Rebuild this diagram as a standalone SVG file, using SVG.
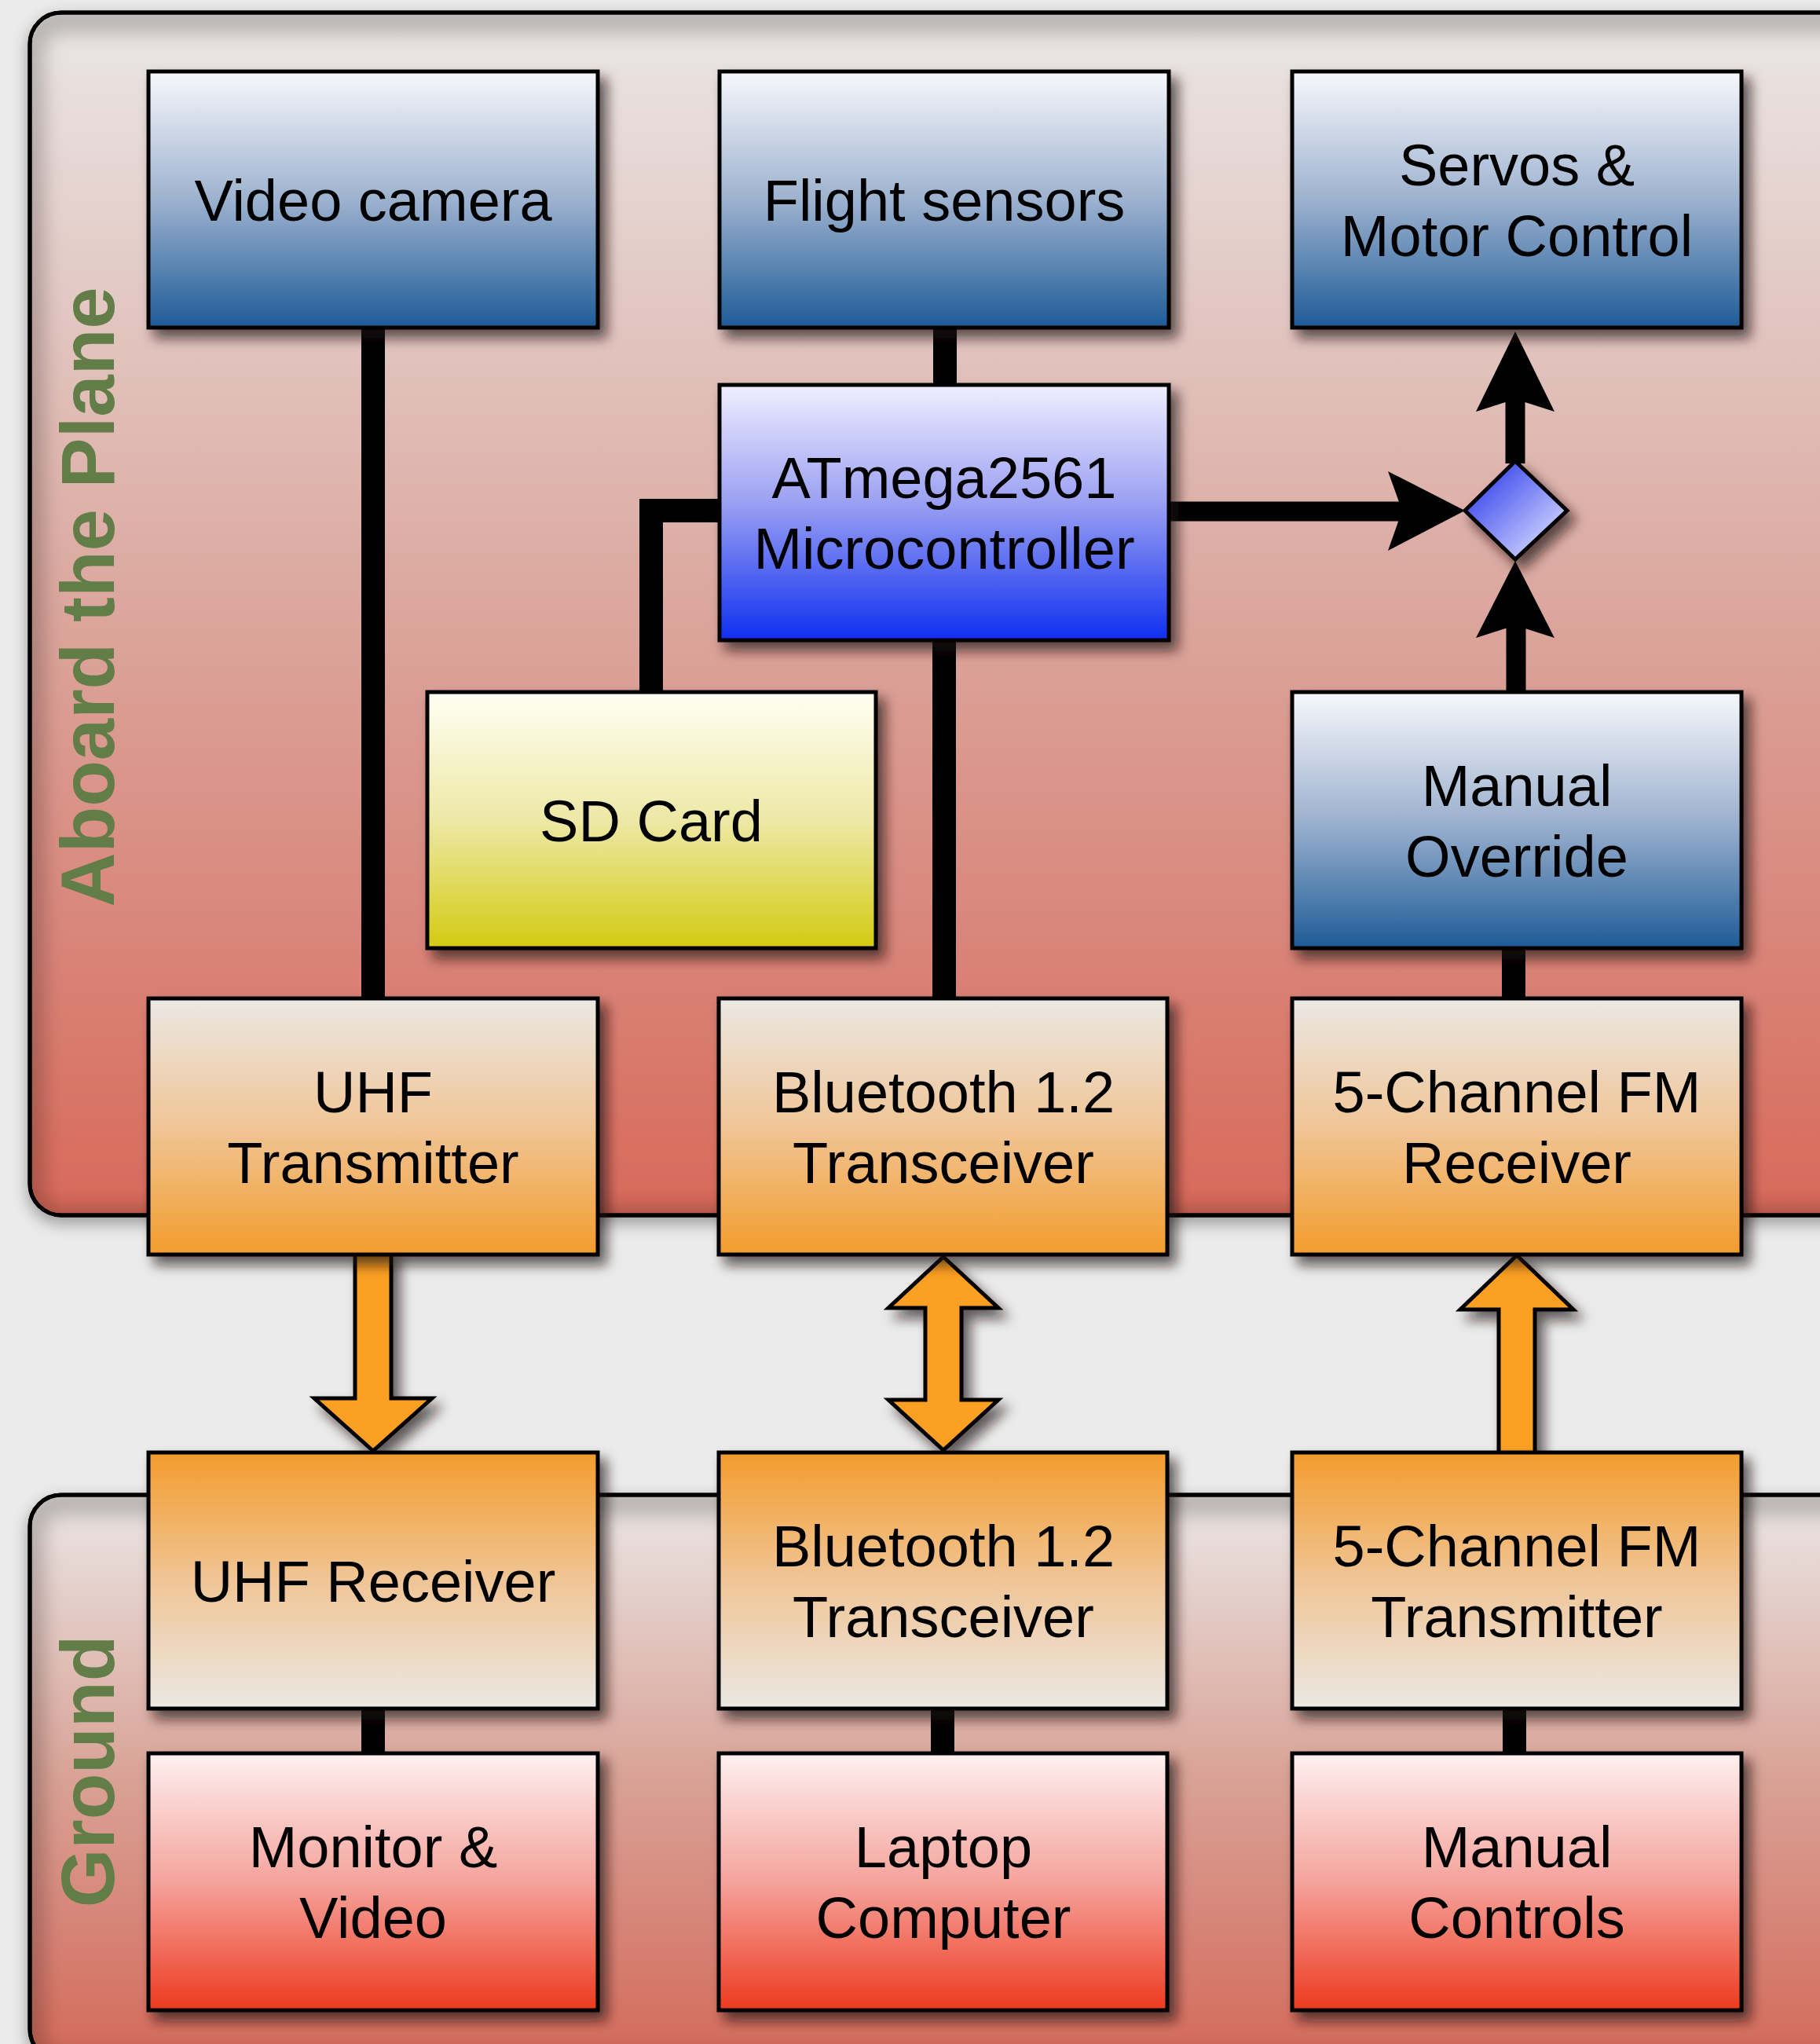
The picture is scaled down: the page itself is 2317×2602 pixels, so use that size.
<svg xmlns="http://www.w3.org/2000/svg" width="2317" height="2602" viewBox="0 0 2317 2602">
<defs>
<style>
.box{stroke:#000;stroke-width:5;filter:url(#sh)}
.lbl{font-family:"Liberation Sans",Arial,Helvetica,sans-serif;font-size:74px;fill:#000;text-anchor:middle}
.grp{font-family:"Liberation Sans",Arial,Helvetica,sans-serif;font-size:96px;font-weight:bold;fill:#627d47;text-anchor:middle}
.wire{stroke:#000;stroke-width:30;fill:none;stroke-linecap:butt}
.thin{stroke:#000;stroke-width:25;fill:none}
.head{fill:#000;stroke:none}
.oarr{fill:#fba020;stroke:#000;stroke-width:5;stroke-linejoin:miter;filter:url(#sh)}
.panel{stroke:#000;stroke-width:5;filter:url(#psh)}
</style>
<filter id="sh" x="-20%" y="-20%" width="150%" height="150%">
<feDropShadow dx="9" dy="11" stdDeviation="8" flood-color="#1a0a08" flood-opacity="0.68"/>
</filter>
<filter id="psh" x="-10%" y="-10%" width="120%" height="120%">
<feDropShadow dx="0" dy="8" stdDeviation="10" flood-color="#000" flood-opacity="0.35"/>
</filter>
<filter id="blur" x="-10%" y="-10%" width="120%" height="120%">
<feGaussianBlur stdDeviation="12"/>
</filter>
<linearGradient id="gPlane" x1="0" y1="0" x2="0" y2="1">
<stop offset="0" stop-color="#eae7e6"/>
<stop offset="0.5" stop-color="#dba69d"/>
<stop offset="1" stop-color="#d8695a"/>
</linearGradient>
<linearGradient id="gGround" x1="0" y1="0" x2="0" y2="1">
<stop offset="0" stop-color="#ebe7e6"/>
<stop offset="0.5" stop-color="#d9a296"/>
<stop offset="1" stop-color="#d4695a"/>
</linearGradient>
<linearGradient id="gBlue" x1="0" y1="0" x2="0" y2="1">
<stop offset="0" stop-color="#f8f8fc"/>
<stop offset="0.5" stop-color="#9db2cf"/>
<stop offset="1" stop-color="#1e5b97"/>
</linearGradient>
<linearGradient id="gMicro" x1="0" y1="0" x2="0" y2="1">
<stop offset="0" stop-color="#f0efff"/>
<stop offset="0.45" stop-color="#9da2f3"/>
<stop offset="1" stop-color="#0f2ff0"/>
</linearGradient>
<linearGradient id="gSD" x1="0" y1="0" x2="0" y2="1">
<stop offset="0" stop-color="#fffff3"/>
<stop offset="0.5" stop-color="#ede8a6"/>
<stop offset="1" stop-color="#d3cb10"/>
</linearGradient>
<linearGradient id="gOrUp" x1="0" y1="0" x2="0" y2="1">
<stop offset="0" stop-color="#ebe8e4"/>
<stop offset="0.5" stop-color="#f0c596"/>
<stop offset="1" stop-color="#f39c2c"/>
</linearGradient>
<linearGradient id="gOrDn" x1="0" y1="0" x2="0" y2="1">
<stop offset="0" stop-color="#f39c2c"/>
<stop offset="0.5" stop-color="#f0c596"/>
<stop offset="1" stop-color="#ebe8e4"/>
</linearGradient>
<linearGradient id="gRed" x1="0" y1="0" x2="0" y2="1">
<stop offset="0" stop-color="#fff0f0"/>
<stop offset="0.5" stop-color="#f5a39c"/>
<stop offset="1" stop-color="#ed3a1f"/>
</linearGradient>
<linearGradient id="gDia" x1="0" y1="0" x2="1" y2="1">
<stop offset="0.2" stop-color="#4652ee"/>
<stop offset="0.85" stop-color="#cfd4ff"/>
</linearGradient>
<clipPath id="cPlane"><rect x="38" y="16" width="2400" height="1531" rx="40"/></clipPath>
<clipPath id="cGround"><rect x="38" y="1903" width="2400" height="720" rx="40"/></clipPath>
</defs>

<rect width="2317" height="2602" fill="#ebebeb"/>

<g id="panel-plane">
<rect class="panel" x="38" y="16" width="2400" height="1531" rx="40" fill="url(#gPlane)"/>
<g clip-path="url(#cPlane)"><rect x="38" y="24" width="2400" height="1531" rx="40" fill="none" stroke="#000" stroke-opacity="0.22" stroke-width="36" filter="url(#blur)"/></g>
<rect x="38" y="16" width="2400" height="1531" rx="40" fill="none" stroke="#000" stroke-width="5"/>
<text class="grp" transform="translate(145,760) rotate(-90)">Aboard the Plane</text>
</g>

<g id="panel-ground">
<rect class="panel" x="38" y="1903" width="2400" height="720" rx="40" fill="url(#gGround)"/>
<g clip-path="url(#cGround)"><rect x="38" y="1911" width="2400" height="720" rx="40" fill="none" stroke="#000" stroke-opacity="0.22" stroke-width="36" filter="url(#blur)"/></g>
<rect x="38" y="1903" width="2400" height="720" rx="40" fill="none" stroke="#000" stroke-width="5"/>
<text class="grp" transform="translate(145,2255) rotate(-90)">Ground</text>
</g>

<g id="connectors">
<line class="wire" x1="475" y1="417" x2="475" y2="1271"/>
<line class="wire" x1="1203" y1="417" x2="1203" y2="490"/>
<line class="wire" x1="1202" y1="815" x2="1202" y2="1271"/>
<polyline class="wire" points="829,881 829,650 917,650" stroke-linejoin="miter"/>
<line class="wire" x1="1927" y1="1207" x2="1927" y2="1271"/>
<line class="wire" x1="475" y1="2175" x2="475" y2="2232"/>
<line class="wire" x1="1200" y1="2175" x2="1200" y2="2232"/>
<line class="wire" x1="1928" y1="2175" x2="1928" y2="2232"/>
<line class="thin" x1="1487" y1="651" x2="1790" y2="651"/>
<polygon class="head" points="1865,650 1767,600 1785,650 1767,701"/>
<line class="thin" x1="1929" y1="590" x2="1929" y2="500"/>
<polygon class="head" points="1929,422 1979,524 1929,508 1879,524"/>
<line class="thin" x1="1930" y1="880" x2="1930" y2="780"/>
<polygon class="head" points="1929,714 1979,812 1929,796 1879,812"/>
<polygon class="oarr" points="452,1592 498,1592 498,1780 550,1780 475,1847 400,1780 452,1780"/>
<polygon class="oarr" points="1201,1600 1271,1665 1224,1665 1224,1782 1271,1782 1201,1846 1131,1782 1178,1782 1178,1665 1131,1665"/>
<polygon class="oarr" points="1931,1598 2003,1667 1954,1667 1954,1851 1908,1851 1908,1667 1859,1667"/>
</g>

<g id="merge">
<polygon class="box" points="1929,587 1995,650 1929,712 1865,650" fill="url(#gDia)"/>
</g>

<g id="video-camera">
<rect class="box" x="189" y="91" width="572" height="326" fill="url(#gBlue)"/>
<text class="lbl" x="475" y="281">Video camera</text>
</g>
<g id="flight-sensors">
<rect class="box" x="916" y="91" width="572" height="326" fill="url(#gBlue)"/>
<text class="lbl" x="1202" y="281">Flight sensors</text>
</g>
<g id="servos">
<rect class="box" x="1645" y="91" width="572" height="326" fill="url(#gBlue)"/>
<text class="lbl" x="1931" y="236">Servos &amp;</text>
<text class="lbl" x="1931" y="326">Motor Control</text>
</g>
<g id="microcontroller">
<rect class="box" x="916" y="490" width="572" height="325" fill="url(#gMicro)"/>
<text class="lbl" x="1202" y="634">ATmega2561</text>
<text class="lbl" x="1202" y="724">Microcontroller</text>
</g>
<g id="sd-card">
<rect class="box" x="544" y="881" width="571" height="326" fill="url(#gSD)"/>
<text class="lbl" x="829" y="1071">SD Card</text>
</g>
<g id="manual-override">
<rect class="box" x="1645" y="881" width="572" height="326" fill="url(#gBlue)"/>
<text class="lbl" x="1931" y="1026">Manual</text>
<text class="lbl" x="1931" y="1116">Override</text>
</g>
<g id="uhf-transmitter">
<rect class="box" x="189" y="1271" width="572" height="326" fill="url(#gOrUp)"/>
<text class="lbl" x="475" y="1416">UHF</text>
<text class="lbl" x="475" y="1506">Transmitter</text>
</g>
<g id="bt-plane">
<rect class="box" x="915" y="1271" width="571" height="326" fill="url(#gOrUp)"/>
<text class="lbl" x="1201" y="1416">Bluetooth 1.2</text>
<text class="lbl" x="1201" y="1506">Transceiver</text>
</g>
<g id="fm-receiver">
<rect class="box" x="1645" y="1271" width="572" height="326" fill="url(#gOrUp)"/>
<text class="lbl" x="1931" y="1416">5-Channel FM</text>
<text class="lbl" x="1931" y="1506">Receiver</text>
</g>
<g id="uhf-receiver">
<rect class="box" x="189" y="1849" width="572" height="326" fill="url(#gOrDn)"/>
<text class="lbl" x="475" y="2039">UHF Receiver</text>
</g>
<g id="bt-ground">
<rect class="box" x="915" y="1849" width="571" height="326" fill="url(#gOrDn)"/>
<text class="lbl" x="1201" y="1994">Bluetooth 1.2</text>
<text class="lbl" x="1201" y="2084">Transceiver</text>
</g>
<g id="fm-transmitter">
<rect class="box" x="1645" y="1849" width="572" height="326" fill="url(#gOrDn)"/>
<text class="lbl" x="1931" y="1994">5-Channel FM</text>
<text class="lbl" x="1931" y="2084">Transmitter</text>
</g>
<g id="monitor">
<rect class="box" x="189" y="2232" width="572" height="327" fill="url(#gRed)"/>
<text class="lbl" x="475" y="2377">Monitor &amp;</text>
<text class="lbl" x="475" y="2467">Video</text>
</g>
<g id="laptop">
<rect class="box" x="915" y="2232" width="571" height="327" fill="url(#gRed)"/>
<text class="lbl" x="1201" y="2377">Laptop</text>
<text class="lbl" x="1201" y="2467">Computer</text>
</g>
<g id="manual-controls">
<rect class="box" x="1645" y="2232" width="572" height="327" fill="url(#gRed)"/>
<text class="lbl" x="1931" y="2377">Manual</text>
<text class="lbl" x="1931" y="2467">Controls</text>
</g>
</svg>
